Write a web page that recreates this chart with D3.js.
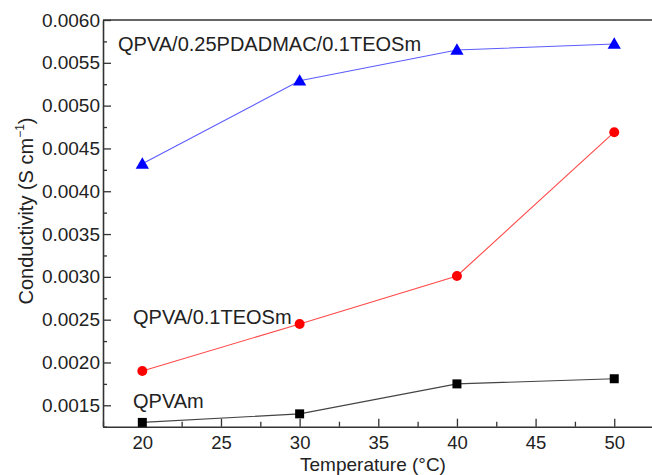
<!DOCTYPE html>
<html>
<head>
<meta charset="utf-8">
<script src="https://cdn.jsdelivr.net/npm/d3@7/dist/d3.min.js"></script>
<style>
  html, body { margin: 0; padding: 0; background: #fff; }
  svg { display: block; font-family: "Liberation Sans", Arial, sans-serif; }
</style>
</head>
<body>
<svg id="chart" width="652" height="475"></svg>
<script>
// ---- data ----
const temperatures = [20, 30, 40, 50];
const seriesNames = ["QPVAm", "QPVA/0.1TEOSm", "QPVA/0.25PDADMAC/0.1TEOSm"];
const qpvam = [0.00130, 0.00140, 0.00175, 0.00181];
const qpvaTeos = [0.00190, 0.00245, 0.00301, 0.00469];
const qpvaPdadmacTeos = [0.00432, 0.00529, 0.00565, 0.00572];
const xTicks = [20, 25, 30, 35, 40, 45, 50];
const yTicks = [0.0015, 0.0020, 0.0025, 0.0030, 0.0035, 0.0040, 0.0045, 0.0050, 0.0055, 0.0060];
const xTitle = "Temperature (\u00B0C)";
const yTitle = "Conductivity (S cm";

(function () {
// ---- layout ----
const svg = d3.select("#chart");
const mLeft = 103, mRight = 652, mTop = 20, mBottom = 426.7;
const x = d3.scaleLinear().domain([17.5, 52.4]).range([mLeft, mRight]);
const y = d3.scaleLinear().domain([0.00125, 0.0060]).range([mBottom, mTop]);
const axisColor = "#333";

// top border
svg.append("line").attr("x1", mLeft).attr("x2", mRight).attr("y1", mTop).attr("y2", mTop)
  .attr("stroke", axisColor).attr("stroke-width", 1.6);

// minor ticks
const xMinor = d3.range(17.5, 52.4, 5);
const yMinor = d3.range(0.00125, 0.0060, 0.0005);

const gx = svg.append("g").attr("transform", `translate(0,${mBottom})`);
gx.call(d3.axisBottom(x).tickValues(xMinor).tickSize(-5).tickFormat(""))
  .call(g => g.select(".domain").remove());
gx.append("g").call(d3.axisBottom(x).tickValues(xTicks).tickSizeInner(-8).tickSizeOuter(0).tickPadding(9.5).tickFormat(d3.format("d")));
gx.selectAll("line").attr("stroke", axisColor).attr("stroke-width", 1.3);
gx.selectAll(".domain").attr("stroke", axisColor).attr("stroke-width", 1.6);
gx.selectAll("text").attr("font-size", 18.5).attr("fill", "#222").attr("font-family", "Liberation Sans, Arial, sans-serif");

const gy = svg.append("g").attr("transform", `translate(${mLeft},0)`);
gy.call(d3.axisLeft(y).tickValues(yMinor).tickSize(-4).tickFormat(""))
  .call(g => g.select(".domain").remove());
gy.append("g").call(d3.axisLeft(y).tickValues(yTicks).tickSizeInner(-8).tickSizeOuter(0).tickPadding(3).tickFormat(d3.format(".4f")));
gy.selectAll("line").attr("stroke", axisColor).attr("stroke-width", 1.3);
gy.selectAll(".domain").attr("stroke", axisColor).attr("stroke-width", 1.6);
gy.selectAll("text").attr("font-size", 19).attr("fill", "#222").attr("font-family", "Liberation Sans, Arial, sans-serif");

// ---- series ----
const series = [
  { name: seriesNames[0], values: qpvam, line: "#444", fill: "#000", shape: "square" },
  { name: seriesNames[1], values: qpvaTeos, line: "#ff4a4a", fill: "#ff0000", shape: "circle" },
  { name: seriesNames[2], values: qpvaPdadmacTeos, line: "#5c5cff", fill: "#0000ff", shape: "triangle" }
];
const lineGen = d3.line().x((d, i) => x(temperatures[i])).y(d => y(d));
const symbolFor = { square: d3.symbolSquare, circle: d3.symbolCircle, triangle: d3.symbolTriangle };
const sizeFor = { square: 81, circle: 78, triangle: 76 };

series.forEach(s => {
  svg.append("path").datum(s.values).attr("d", lineGen)
    .attr("fill", "none").attr("stroke", s.line).attr("stroke-width", 1.1);
  svg.append("g").selectAll("path").data(s.values).join("path")
    .attr("transform", (d, i) => `translate(${x(temperatures[i])},${y(d) + (s.shape === "triangle" ? 1 : 0)})`)
    .attr("d", d3.symbol().type(symbolFor[s.shape]).size(sizeFor[s.shape]))
    .attr("fill", s.fill);
});

// ---- series labels ----
const labelPos = [[133, 408], [133, 323.5], [118, 51]];
series.forEach((s, i) => {
  svg.append("text").attr("x", labelPos[i][0]).attr("y", labelPos[i][1])
    .attr("font-size", 20).attr("fill", "#222").text(s.name);
});

// ---- axis titles ----
svg.append("text").attr("x", 373).attr("y", 470.8).attr("text-anchor", "middle")
  .attr("font-size", 19).attr("fill", "#222").text(xTitle);

const yt = svg.append("text").attr("transform", "translate(33,211) rotate(-90)")
  .attr("text-anchor", "middle").attr("font-size", 20).attr("fill", "#222");
yt.append("tspan").text(yTitle);
yt.append("tspan").attr("font-size", 12).attr("dy", "-0.75em").text("\u22121");
yt.append("tspan").attr("dy", "0.45em").text(")");
})();
</script>
</body>
</html>
